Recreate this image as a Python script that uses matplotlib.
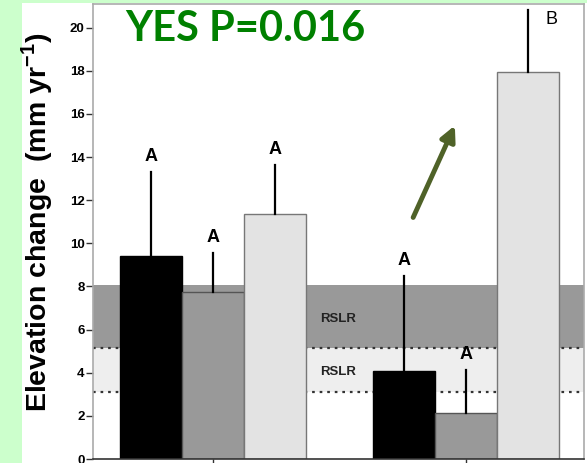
import numpy as np
import matplotlib
matplotlib.use("Agg")
import matplotlib.pyplot as plt
from matplotlib.patches import Rectangle

matplotlib.rcParams['font.family'] = ['Liberation Sans', 'DejaVu Sans']

# 2 groups x 3 treatments
group_pos = [0.0, 4.07]
offsets = [-1.0, 0.0, 1.0]
bar_colors = ['#000000', '#999999', '#e3e3e3']
edge_colors = ['#000000', '#555555', '#777777']

means = [[9.42, 7.75, 11.37],
         [4.08, 2.13, 17.96]]
err_top = [[13.3, 9.56, 13.64],
           [8.49, 4.13, 20.8]]
letters = [['A', 'A', 'A'],
           ['A', 'A', 'B']]

# relative sea-level rise bands
rslr_hi = (5.15, 8.07)
rslr_lo = (3.1, 5.15)

fig = plt.figure(figsize=(5.87, 4.63), dpi=100)
fig.patch.set_facecolor('white')
fig.patches.append(Rectangle((0, 0), 22 / 587, 1, transform=fig.transFigure,
                             facecolor='#ccffcc', edgecolor='none', zorder=-5))
fig.patches.append(Rectangle((0, 1 - 3 / 463), 1, 3 / 463, transform=fig.transFigure,
                             facecolor='#ccffcc', edgecolor='none', zorder=-5))

ax = fig.add_axes([93 / 587, 4 / 463, 491 / 587, 455 / 463])
ax.set_xlim(-1.94, 5.98)
ax.set_ylim(0, 21.1)

ax.axhspan(*rslr_hi, color='#999999', zorder=0, lw=0)
ax.axhspan(*rslr_lo, color='#eeeeee', zorder=0, lw=0)
for yv in rslr_lo:
    ax.axhline(yv, color='#333333', ls=(0, (1.2, 2.2)), lw=1.6, zorder=0.5)

for g, gx in enumerate(group_pos):
    for k, off in enumerate(offsets):
        x = gx + off
        ax.bar(x, means[g][k], width=1.0, color=bar_colors[k],
               edgecolor=edge_colors[k], linewidth=1.0, zorder=2)
        ax.plot([x, x], [means[g][k], err_top[g][k]], color='black', lw=1.6, zorder=3)
        if letters[g][k] == 'A':
            ax.text(x, err_top[g][k] + 0.72, 'A', ha='center', va='center',
                    fontsize=13, fontweight='bold', zorder=4)
        else:
            ax.text(x + 0.39, 20.37, letters[g][k], ha='center', va='center',
                    fontsize=13, zorder=4)

ax.text(1.73, 6.5, 'RSLR', ha='left', va='center', fontsize=9.5, fontweight='bold', color='#222222')
ax.text(1.73, 4.04, 'RSLR', ha='left', va='center', fontsize=9.5, fontweight='bold', color='#222222')

ax.text(0.31, 0.945, 'YES P=0.016', transform=ax.transAxes, ha='center', va='center',
        fontsize=30, fontweight='bold', color='#008000', family=['Lato', 'DejaVu Sans'])

ax.annotate('', xy=(456, 463 - 123), xycoords='figure pixels',
            xytext=(412, 463 - 220), textcoords='figure pixels',
            arrowprops=dict(arrowstyle='-|>,head_length=0.9,head_width=0.45',
                            color='#4f6228', lw=3.5))

ax.set_yticks(np.arange(0, 21, 2))
ax.set_yticklabels([str(v) for v in range(0, 21, 2)], fontsize=9.5, fontweight='bold')
ax.set_xticks(group_pos)
ax.set_xticklabels([])
ax.tick_params(axis='y', direction='out', length=5, width=1, color='#333333', pad=1)
ax.tick_params(axis='x', direction='out', length=6, width=1, color='#333333')
for s in ['left', 'right', 'top']:
    ax.spines[s].set_color('#aaaaaa')
    ax.spines[s].set_linewidth(1.2)
ax.spines['bottom'].set_color('#333333')
ax.spines['bottom'].set_linewidth(1.2)

# axis title
fig.text(37 / 587, 0.52, 'Elevation change  (mm yr$^{\\mathregular{-1}}$)', fontsize=20.5,
         fontweight='bold', rotation=90, ha='center', va='center')

fig.savefig('out.png', dpi=100)
